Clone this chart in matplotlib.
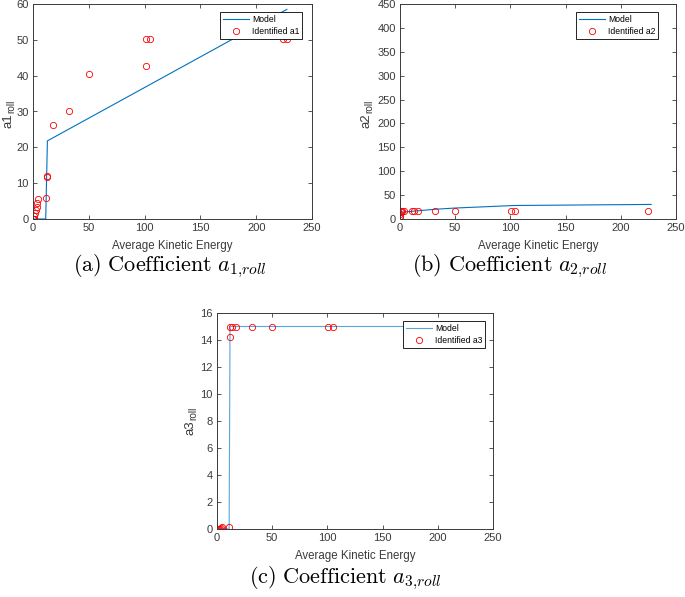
import matplotlib
matplotlib.use("Agg")
import matplotlib.pyplot as plt

plt.rcParams['font.family'] = ['Liberation Sans', 'DejaVu Sans']

# ---- data ----
x_a1 = [0.2, 0.5, 0.8, 1.2, 2.1, 2.7, 3.3, 3.6, 4.8, 11.6, 12.6, 12.9, 17.7, 32.6, 50.3, 100.9, 101.2, 104.8, 224.3, 227.5]
y_a1 = [0.0, 0.0, 0.0, 0.7, 1.6, 2.5, 3.4, 4.4, 5.5, 5.9, 11.7, 11.9, 26.1, 30.0, 40.5, 42.6, 50.2, 50.2, 50.2, 50.2]
model_x_a1 = [0, 11.4, 12.9, 227.5]
model_y_a1 = [0, 0, 21.8, 58.5]

x_a2 = [0.0, 0.0, 0.3, 0.6, 1.2, 2.0, 3.4, 10.9, 12.7, 16.3, 31.7, 49.8, 100.2, 104.5, 225.0]
y_a2 = [1.4, 6.0, 11.0, 14.5, 16, 16, 16, 16, 16, 16, 16, 16, 16, 16, 16]
model_x_a2 = [0, 12.9, 32.6, 50.3, 100.9, 104.8, 227.5]
model_y_a2 = [14, 16.5, 20.5, 23, 28, 28.3, 30.5]

x_a3 = [0.0, 0.8, 1.5, 2.5, 3.5, 4.5, 10.6, 12.1, 12.1, 13.9, 17.2, 32.0, 50.1, 100.5, 104.8, 224.3, 227.5]
y_a3 = [0, 0, 0, 0, 0.05, 0.15, 0.17, 14.2, 15, 15, 15, 15, 15, 15, 15, 15, 15]
model_x_a3 = [0, 11.0, 11.8, 227.5]
model_y_a3 = [0, 0, 15, 15]

x_ticks = [0, 50, 100, 150, 200, 250]
y_ticks_a1 = [0, 10, 20, 30, 40, 50, 60]
y_ticks_a2 = [0, 50, 100, 150, 200, 250, 300, 350, 400, 450]
y_ticks_a3 = [0, 2, 4, 6, 8, 10, 12, 14, 16]

W, H = 685, 597
fig = plt.figure(figsize=(W / 100, H / 100), dpi=100)

def px_axes(l, t, r, b):
    return fig.add_axes([l / W, 1 - b / H, (r - l) / W, (b - t) / H])

blue = '#0072BD'
tick_col = '#3a3a3a'

def style(ax, yticks, xmax=250):
    ax.set_xlim(0, xmax)
    ax.set_ylim(yticks[0], yticks[-1])
    ax.set_xticks(x_ticks)
    ax.set_yticks(yticks)
    ax.tick_params(direction='in', length=3, width=0.6, top=True, right=True,
                   labelsize=8, colors=tick_col, pad=3)
    for s in ax.spines.values():
        s.set_linewidth(0.7)
        s.set_color(tick_col)
    ax.set_xlabel('Average Kinetic Energy', fontsize=8.3, color=tick_col, labelpad=5)

def ylabel(main, sub, x, y):
    # x, y: pixel position where main text ends and subscript begins
    fig.text(x / W, 1 - y / H, main, rotation=90, ha='center', va='top',
             fontsize=9.5, color=tick_col)
    fig.text((x + 2.5) / W, 1 - y / H, sub, rotation=90, ha='center', va='bottom',
             fontsize=7.3, color=tick_col)

def legend(ax, anchor):
    leg = ax.legend(loc='upper right', bbox_to_anchor=anchor, fontsize=6.2,
                    fancybox=False, edgecolor='black', framealpha=1,
                    borderpad=0.3, handlelength=3.0, handletextpad=0.4,
                    labelspacing=0.4, borderaxespad=0)
    leg.get_frame().set_linewidth(0.6)

# (a)
ax1 = px_axes(33, 4, 312, 219)
ax1.plot(model_x_a1, model_y_a1, color=blue, lw=0.8, label='Model')
ax1.plot(x_a1, y_a1, 'o', mfc='none', mec='red', ms=4.5, mew=0.6, label='Identified a1')
style(ax1, y_ticks_a1)
ylabel('a1', 'roll', 9, 113)
legend(ax1, (0.964, 0.963))

# (b)
ax2 = px_axes(400, 4, 676, 219)
ax2.plot(model_x_a2, model_y_a2, color=blue, lw=0.8, label='Model')
ax2.plot(x_a2, y_a2, 'o', mfc='none', mec='red', ms=4.5, mew=0.6, label='Identified a2')
style(ax2, y_ticks_a2)
ylabel('a2', 'roll', 367, 113)
legend(ax2, (0.935, 0.963))

# (c)
ax3 = px_axes(217, 313, 493, 529)
ax3.plot(model_x_a3, model_y_a3, color='#5aa5dc', lw=0.8, label='Model')
ax3.plot(x_a3, y_a3, 'o', mfc='none', mec='red', ms=4.5, mew=0.6, label='Identified a3')
style(ax3, y_ticks_a3)
ylabel('a3', 'roll', 191, 420)
legend(ax3, (0.971, 0.963))

# captions
cap_kw = dict(ha='center', va='center', fontsize=16, math_fontfamily='cm')
fig.text(170 / W, 1 - 266 / H, r'$\mathrm{(a)\ Coefficient}\ a_{1{,}roll}$', **cap_kw)
fig.text(510 / W, 1 - 266 / H, r'$\mathrm{(b)\ Coefficient}\ a_{2{,}roll}$', **cap_kw)
fig.text(345 / W, 1 - 578 / H, r'$\mathrm{(c)\ Coefficient}\ a_{3{,}roll}$', **cap_kw)

fig.savefig('out.png', dpi=100)
